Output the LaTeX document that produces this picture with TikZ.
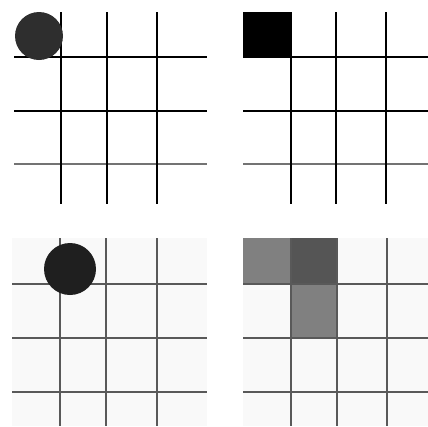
\documentclass[tikz,border=0pt]{standalone}
\usepackage{tikz}
\definecolor{BoardGray}{RGB}{249,249,249}
\definecolor{MidGray}{RGB}{128,128,128}
\definecolor{DarkGray}{RGB}{85,85,85}
\tikzset{
  gridline/.style={line width=1.5pt,black},
  softline/.style={line width=2.2pt,black!65},
}

\begin{document}
\begin{tikzpicture}[x=1pt,y=-1pt]
  \useasboundingbox (0,0) rectangle (428,426);
  % top left: disc on the grid
  \foreach \y in {57,111} \draw[gridline] (14,\y)--(207,\y);
  \draw[gridline,black!55] (14,164)--(207,164);
  \foreach \x in {61,107,157} \draw[gridline] (\x,12)--(\x,204);
  \fill[black!82] (39,36) circle (24);
  % top right: pixel on the grid
  \fill[black] (243,12) rectangle (290,57);
  \foreach \y in {57,111} \draw[gridline] (243,\y)--(428,\y);
  \draw[gridline,black!55] (243,164)--(428,164);
  \foreach \x in {291,336,386} \draw[gridline] (\x,12)--(\x,204);
  % bottom left: shifted disc
  \fill[BoardGray] (12,238) rectangle (207,426);
  \foreach \y in {284,338,392} \draw[softline] (12,\y)--(207,\y);
  \foreach \x in {60,106,157} \draw[softline] (\x,238)--(\x,426);
  \fill[black!88] (70,269) circle (26);
  % bottom right: coverage as gray levels
  \fill[BoardGray] (243,238) rectangle (428,426);
  \fill[MidGray] (243,238) rectangle (290,284);
  \fill[DarkGray] (290,238) rectangle (336,284);
  \fill[MidGray] (290,284) rectangle (336,338);
  \foreach \y in {284,338,392} \draw[softline] (243,\y)--(428,\y);
  \foreach \x in {291,337,387} \draw[softline] (\x,238)--(\x,426);
\end{tikzpicture}
\end{document}
